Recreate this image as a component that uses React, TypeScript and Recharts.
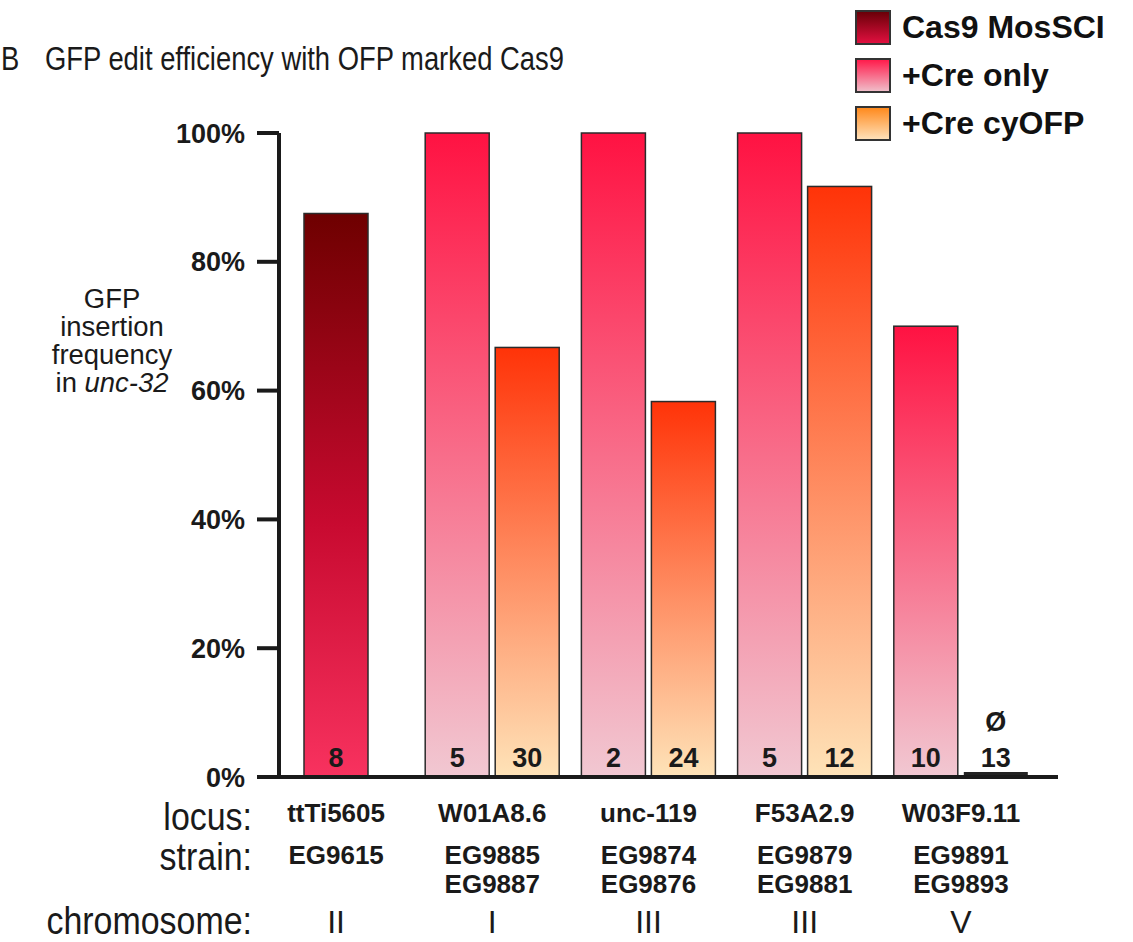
import { BarChart, Bar, XAxis, YAxis, Legend } from "recharts";

// values (percent of animals with GFP insertion)
const loci = ["ttTi5605", "W01A8.6", "unc-119", "F53A2.9", "W03F9.11"];
const strains = [
  ["EG9615"],
  ["EG9885", "EG9887"],
  ["EG9874", "EG9876"],
  ["EG9879", "EG9881"],
  ["EG9891", "EG9893"],
];
const chromosomes = ["II", "I", "III", "III", "V"];

const cas9MosSCI = [87.5, null, null, null, null];
const creOnly = [null, 100, 100, 100, 70];
const creCyOFP = [null, 66.7, 58.3, 91.7, 0];

// number of animals scored per bar
const cas9MosSCIN = [8, null, null, null, null];
const creOnlyN = [null, 5, 2, 5, 10];
const creCyOFPN = [null, 30, 24, 12, 13];

const yTicks = [0, 20, 40, 60, 80, 100];

const legendItems = [
  { name: "Cas9 MosSCI", bg: "linear-gradient(#6a0008, #e0103f)" },
  { name: "+Cre only", bg: "linear-gradient(#ff1c4c, #f0bcc8)" },
  { name: "+Cre cyOFP", bg: "linear-gradient(#ff8a1e, #ffe0b8)" },
];

const table = loci.map((locus, i) => ({
  locus,
  first: cas9MosSCI[i] ?? creOnly[i],
  firstN: cas9MosSCIN[i] ?? creOnlyN[i],
  isCas9: cas9MosSCI[i] != null,
  ofp: creCyOFP[i],
  ofpN: creCyOFPN[i],
}));

const FONT = "'Liberation Sans', Arial, Helvetica, sans-serif";
const INK = "#1a1a1a";
const BAR_SIZE = 64;
const BAR_GAP = 6;

function FirstBar(props: any) {
  const { x, y, width, height, payload } = props;
  if (payload.first == null || !height) return <g />;
  // a lone bar (no cyOFP partner) sits in the middle of its group
  const dx = payload.ofp == null ? (width + BAR_GAP) / 2 : 0;
  return (
    <g>
      <rect
        x={x + dx}
        y={y}
        width={width}
        height={height}
        fill={payload.isCas9 ? "url(#cas9Grad)" : "url(#creGrad)"}
        stroke="#2b2b2b"
        strokeWidth={1.5}
      />
      <text
        x={x + dx + width / 2}
        y={y + height - 10}
        textAnchor="middle"
        fontFamily={FONT}
        fontWeight={700}
        fontSize={27}
        fill={INK}
      >
        {payload.firstN}
      </text>
    </g>
  );
}

function OfpBar(props: any) {
  const { x, y, width, height, payload } = props;
  if (payload.ofp == null) return <g />;
  const none = payload.ofp === 0;
  const bottom = y + height;
  return (
    <g>
      <rect
        x={x}
        y={y}
        width={width}
        height={height}
        fill={none ? "#222" : "url(#ofpGrad)"}
        stroke={none ? "none" : "#2b2b2b"}
        strokeWidth={1.5}
      />
      <text
        x={x + width / 2}
        y={bottom - 10}
        textAnchor="middle"
        fontFamily={FONT}
        fontWeight={700}
        fontSize={27}
        fill={INK}
      >
        {payload.ofpN}
      </text>
      {none && (
        <text
          x={x + width / 2}
          y={bottom - 46}
          textAnchor="middle"
          fontFamily={FONT}
          fontWeight={700}
          fontSize={27}
          fill={INK}
        >
          Ø
        </text>
      )}
    </g>
  );
}

function LocusTick(props: any) {
  const { x, y, payload } = props;
  const i = payload.index;
  return (
    <g transform={`translate(${x},${y})`} fontFamily={FONT} fill={INK} textAnchor="middle">
      <text y={45} fontSize={26} fontWeight={700}>
        {loci[i]}
      </text>
      {strains[i].map((s, k) => (
        <text key={s} y={87 + k * 29} fontSize={26} fontWeight={700}>
          {s}
        </text>
      ))}
      <text y={156} fontSize={32}>
        {chromosomes[i]}
      </text>
    </g>
  );
}

function renderLegend() {
  return (
    <div style={{ fontFamily: FONT }}>
      {legendItems.map((item) => (
        <div
          key={item.name}
          style={{ display: "flex", alignItems: "center", height: 35, marginBottom: 13 }}
        >
          <div
            style={{
              width: 36,
              height: 35,
              boxSizing: "border-box",
              border: "2px solid #333",
              background: item.bg,
            }}
          />
          <span
            style={{ marginLeft: 11, fontSize: 32, fontWeight: 700, color: "#111", lineHeight: "35px" }}
          >
            {item.name}
          </span>
        </div>
      ))}
    </div>
  );
}

const rowLabels = [
  { text: "locus:", y: 830 },
  { text: "strain:", y: 870 },
  { text: "chromosome:", y: 934 },
];

export default function App() {
  return (
    <div style={{ position: "absolute", left: 0, top: 0, width: 1133, height: 942, background: "#fff" }}>
      <BarChart
        width={1133}
        height={942}
        data={table}
        margin={{ top: 133, right: 75, bottom: 0, left: 0 }}
        barSize={BAR_SIZE}
        barGap={BAR_GAP}
      >
        <defs>
          <linearGradient id="cas9Grad" x1="0" y1="0" x2="0" y2="1">
            <stop offset="0" stopColor="#6e0000" />
            <stop offset="0.55" stopColor="#c80a30" />
            <stop offset="1" stopColor="#f8325f" />
          </linearGradient>
          <linearGradient id="creGrad" x1="0" y1="0" x2="0" y2="1">
            <stop offset="0" stopColor="#ff1242" />
            <stop offset="1" stopColor="#f1c8d2" />
          </linearGradient>
          <linearGradient id="ofpGrad" x1="0" y1="0" x2="0" y2="1">
            <stop offset="0" stopColor="#ff3308" />
            <stop offset="1" stopColor="#fee3b8" />
          </linearGradient>
        </defs>
        <XAxis
          dataKey="locus"
          height={165}
          padding={{ left: -21, right: 19 }}
          interval={0}
          tickLine={false}
          tickSize={0}
          tickMargin={0}
          axisLine={{ stroke: INK, strokeWidth: 4 }}
          tick={<LocusTick />}
        />
        <YAxis
          width={279}
          domain={[0, 100]}
          ticks={yTicks}
          tickFormatter={(v) => `${v}%`}
          tickSize={22}
          tickMargin={12}
          axisLine={{ stroke: INK, strokeWidth: 4 }}
          tickLine={{ stroke: INK, strokeWidth: 4 }}
          tick={{ fill: INK, fontSize: 27, fontWeight: 700, fontFamily: FONT }}
        />
        <Legend
          content={renderLegend}
          layout="horizontal"
          verticalAlign="middle"
          align="center"
          wrapperStyle={{ top: 10, left: 855, width: 278 }}
        />
        <Bar dataKey="first" shape={<FirstBar />} isAnimationActive={false} />
        <Bar dataKey="ofp" minPointSize={5} shape={<OfpBar />} isAnimationActive={false} />
      </BarChart>

      <svg
        width={1133}
        height={942}
        style={{ position: "absolute", left: 0, top: 0, pointerEvents: "none" }}
        fontFamily={FONT}
        fill={INK}
      >
        <text transform="translate(1,70) scale(0.83,1)" fontSize={33}>
          B
        </text>
        <text transform="translate(45,70) scale(0.83,1)" fontSize={33}>
          GFP edit efficiency with OFP marked Cas9
        </text>
        <g fontSize={28} textAnchor="middle">
          <text transform="translate(112,308) scale(0.98,1)">GFP</text>
          <text transform="translate(112,336) scale(0.98,1)">insertion</text>
          <text transform="translate(112,364) scale(0.98,1)">frequency</text>
          <text transform="translate(112,392) scale(0.98,1)">
            in <tspan fontStyle="italic">unc-32</tspan>
          </text>
        </g>
        <g fontSize={39} textAnchor="end">
          {rowLabels.map((r) => (
            <text key={r.text} transform={`translate(252,${r.y}) scale(0.87,1)`}>
              {r.text}
            </text>
          ))}
        </g>
      </svg>
    </div>
  );
}
